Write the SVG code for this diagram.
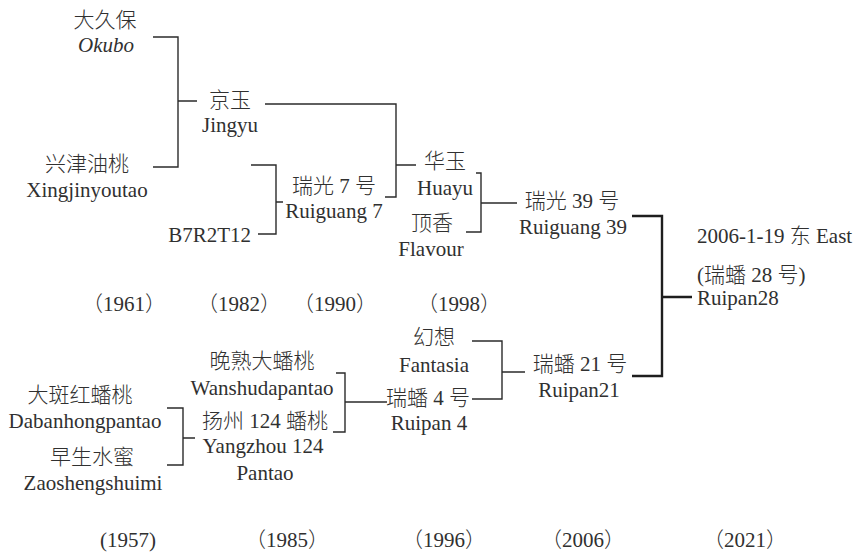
<svg xmlns="http://www.w3.org/2000/svg" width="859" height="554" viewBox="0 0 859 554">
<style>
text{font-family:"Liberation Serif","Noto Sans CJK SC",serif;font-size:21px;fill:#303030;font-weight:300}
.c{text-anchor:middle}
.e{text-anchor:end}
.it{font-style:italic}
.ln{fill:none;stroke:#2b2b2b;stroke-width:1.4}
.th{fill:none;stroke:#1e1e1e;stroke-width:2.4}
</style>
<rect width="859" height="554" fill="#fff"/>
<g id="connectors">
<path class="ln" d="M153,37 H178 V167 H153 M178,101 H197"/>
<path class="ln" d="M265,104 H396 V197 H385 M396,165 H416"/>
<path class="ln" d="M251,165 H276 V234 H258 M276,202 H283"/>
<path class="ln" d="M476,173 H481 V232 H466 M481,203 H517"/>
<path class="th" d="M632,216 H662 V376 H632 M662,297 H692"/>
<path class="ln" d="M167,408 H183 V465 H167 M183,438 H195"/>
<path class="ln" d="M336,373 H345 V432 H333 M345,402 H387"/>
<path class="ln" d="M472,341 H502 V399 H472 M502,372 H525"/>
</g>
<g id="okubo"><text class="c" x="105" y="27">大久保</text><text class="c it" x="106" y="52">Okubo</text></g>
<g id="xingjinyoutao"><text class="c" x="87" y="171">兴津油桃</text><text class="c" x="87" y="197">Xingjinyoutao</text></g>
<g id="jingyu"><text class="c" x="230" y="107">京玉</text><text class="c" x="230" y="132">Jingyu</text></g>
<g id="b7r2t12"><text class="e" x="251" y="242">B7R2T12</text></g>
<g id="ruiguang7"><text class="c" x="334" y="193">瑞光 7 号</text><text class="c" x="334" y="218">Ruiguang 7</text></g>
<g id="huayu"><text class="c" x="445" y="168">华玉</text><text class="c" x="445" y="195">Huayu</text></g>
<g id="flavour"><text class="c" x="432" y="230">顶香</text><text class="c" x="431" y="256">Flavour</text></g>
<g id="ruiguang39"><text class="c" x="572" y="208">瑞光 39 号</text><text class="c" x="573" y="234">Ruiguang 39</text></g>
<g id="ruipan28"><text x="697" y="243">2006-1-19 东 East</text><text x="697" y="282">(瑞蟠 28 号)</text><text x="697" y="305">Ruipan28</text></g>
<g id="years-top"><text class="c" x="124" y="311">（1961）</text><text class="c" x="239" y="311">（1982）</text><text class="c" x="335" y="311">（1990）</text><text class="c" x="459" y="311">（1998）</text></g>
<g id="dabanhongpantao"><text class="c" x="80" y="402">大斑红蟠桃</text><text class="c" x="85" y="428">Dabanhongpantao</text></g>
<g id="zaoshengshuimi"><text class="c" x="92" y="464">早生水蜜</text><text class="c" x="93" y="490">Zaoshengshuimi</text></g>
<g id="wanshudapantao"><text class="c" x="262" y="368">晚熟大蟠桃</text><text class="c" x="262" y="395">Wanshudapantao</text></g>
<g id="yangzhou124"><text class="c" x="265" y="428">扬州 124 蟠桃</text><text class="c" x="263" y="453">Yangzhou 124</text><text class="c" x="265" y="480">Pantao</text></g>
<g id="fantasia"><text class="c" x="434" y="344">幻想</text><text class="c" x="434" y="372">Fantasia</text></g>
<g id="ruipan4"><text class="c" x="428" y="405">瑞蟠 4 号</text><text class="c" x="429" y="430">Ruipan 4</text></g>
<g id="ruipan21"><text class="c" x="580" y="371">瑞蟠 21 号</text><text class="c" x="579" y="397">Ruipan21</text></g>
<g id="years-bottom"><text class="c" x="128" y="547">(1957)</text><text class="c" x="287" y="547">（1985）</text><text class="c" x="444" y="547">（1996）</text><text class="c" x="583" y="547">（2006）</text><text class="c" x="745" y="547">（2021）</text></g>
</svg>
